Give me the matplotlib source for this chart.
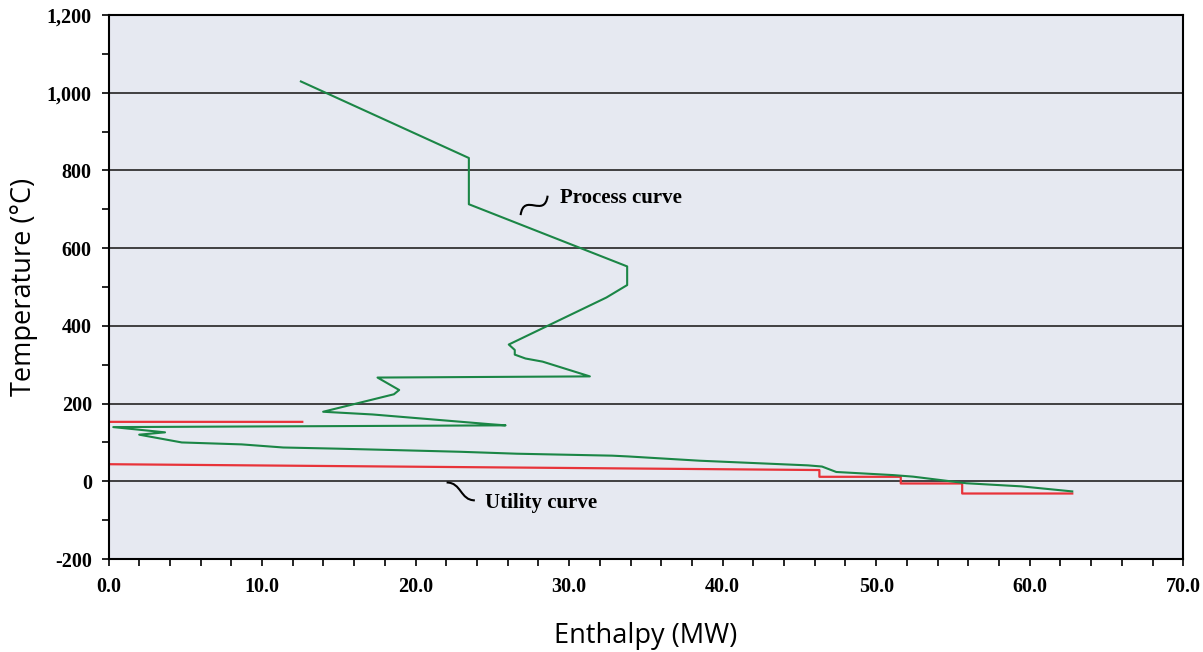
import matplotlib
matplotlib.use("Agg")
import matplotlib.pyplot as plt
from matplotlib.path import Path
from matplotlib.patches import PathPatch
from matplotlib.ticker import MultipleLocator, FuncFormatter

# ---- data ----
process_H = [12.53, 23.47, 23.47, 33.78, 33.78, 32.43, 26.07, 26.46, 26.46, 27.16,
             28.27, 31.35, 17.52, 18.93, 18.59, 13.98, 17.20, 24.84, 25.86, 0.31,
             3.68, 2.00, 4.77, 8.67, 11.38, 14.92, 18.98, 22.90, 26.60, 32.80,
             33.84, 38.50, 45.56, 46.47, 47.40, 51.10, 52.40, 55.87, 59.45, 62.77]
process_T = [1029, 832, 713, 553, 505, 473, 352, 338, 326, 316,
             308, 270, 267, 235, 224, 179, 172, 147, 144, 139.5,
             126, 120, 100, 95, 87, 84, 80, 76, 71, 66,
             64, 53, 41, 38, 24, 16, 12, -5, -13, -26]

utility_H = [12.62, 0.0, 0.0, 46.3, 46.3, 51.6, 51.6, 55.6, 55.6, 62.77]
utility_T = [153, 153, 44, 29, 11.6, 11.6, -5.6, -5.6, -31.4, -31.4]

x_ticks = [0, 10, 20, 30, 40, 50, 60, 70]
y_ticks = [-200, 0, 200, 400, 600, 800, 1000, 1200]

label_process = "Process curve"
label_utility = "Utility curve"

GREEN = "#1b8646"
RED = "#e8333a"

fig = plt.figure(figsize=(12.03, 6.52), dpi=100)
ax = fig.add_axes([0.0902, 0.1426, 0.8934, 0.8344])
ax.set_facecolor("#e6e9f1")

ax.set_xlim(0, 70)
ax.set_ylim(-200, 1200)

for yv in y_ticks[1:-1]:
    ax.axhline(yv, color="#333333", lw=1.3, zorder=1)

ax.plot(process_H, process_T, color=GREEN, lw=1.5, zorder=3)
ax.plot(utility_H, utility_T, color=RED, lw=1.6, zorder=2)

# squiggle leaders
def squiggle(p0, p1, p2, p3):
    path = Path([p0, p1, p2, p3], [Path.MOVETO, Path.CURVE4, Path.CURVE4, Path.CURVE4])
    ax.add_patch(PathPatch(path, fc="none", ec="black", lw=1.5, zorder=4))

squiggle((26.84, 685), (27.05, 745), (28.40, 675), (28.60, 735))
squiggle((22.02, -3), (23.0, -3), (22.9, -49), (23.86, -49))

tfont = dict(family="Liberation Serif", weight="bold", size=15)
ax.text(29.4, 730, label_process, va="center", ha="left", **tfont)
ax.text(24.5, -56, label_utility, va="center", ha="left", **tfont)

ax.set_xticks(x_ticks)
ax.set_yticks(y_ticks)
ax.xaxis.set_minor_locator(MultipleLocator(2))
ax.yaxis.set_minor_locator(MultipleLocator(100))
ax.xaxis.set_major_formatter(FuncFormatter(lambda v, p: f"{v:.1f}"))
ax.yaxis.set_major_formatter(FuncFormatter(lambda v, p: f"{int(v):,}"))
ax.tick_params(which="both", direction="out", length=5, width=1.2, color="black")
ax.tick_params(axis="x", pad=8)
ax.tick_params(axis="y", pad=7)
for lab in ax.get_xticklabels() + ax.get_yticklabels():
    lab.set_fontfamily("Liberation Serif")
    lab.set_fontweight("bold")
    lab.set_fontsize(14.5)

for s in ax.spines.values():
    s.set_linewidth(1.5)
    s.set_color("black")

ax.set_xlabel("Enthalpy (MW)", family="Open Sans", fontsize=19.5, labelpad=18)
ax.set_ylabel("Temperature (\u00b0C)", family="Open Sans", fontsize=19.5, labelpad=6)

fig.savefig("out.png", dpi=100, facecolor="white")
